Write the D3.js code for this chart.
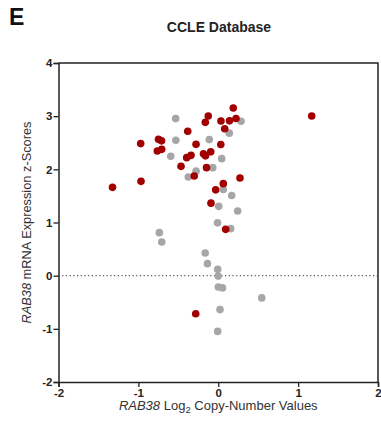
<!DOCTYPE html>
<html>
<head>
<meta charset="utf-8">
<script src="https://cdn.jsdelivr.net/npm/d3@7"></script>
<style>
  body { margin: 0; background: #fff; }
  svg { font-family: "Liberation Sans", Arial, sans-serif; }
</style>
</head>
<body>
<div id="chart"></div>
<script>
// copy-number (x) vs z-score (y)
var redX = [0.188, -0.125, -0.162, 0.034, 0.141, 0.222, 0.081, -0.382, 1.170, -0.748,
            -0.710, -0.971, -0.278, 0.032, -0.708, -0.763, -0.094, -0.185, -0.160, -0.341,
            -0.395, -0.466, -0.147, -0.301, 0.272, -0.967, -1.324, 0.063, -0.032, -0.091,
            0.093, -0.282];
var redY = [3.153, 3.003, 2.884, 2.909, 2.912, 2.956, 2.762, 2.715, 3.003, 2.564,
            2.536, 2.484, 2.470, 2.467, 2.376, 2.344, 2.329, 2.292, 2.254, 2.263,
            2.220, 2.056, 2.032, 1.874, 1.836, 1.774, 1.661, 1.731, 1.614, 1.364,
            0.871, -0.715];
var grayX = [-0.533, 0.285, 0.138, -0.531, -0.112, -0.595, 0.043, -0.069, -0.278, -0.375,
             0.063, 0.168, 0.006, 0.243, -0.009, 0.156, -0.738, -0.707, -0.163, -0.135,
             -0.007, -0.001, 0.001, 0.053, 0.545, 0.022, -0.007];
var grayY = [2.954, 2.903, 2.681, 2.546, 2.559, 2.245, 2.201, 2.032, 1.966, 1.855,
             1.620, 1.507, 1.304, 1.215, 0.993, 0.884, 0.809, 0.632, 0.425, 0.226,
             0.119, -0.008, -0.214, -0.230, -0.418, -0.638, -1.048];
var xTicks = [-2, -1, 0, 1, 2];
var yTicks = [-2, -1, 0, 1, 2, 3, 4];

var W = 381, H = 427;
var plotL = 58.5, plotR = 378, plotT = 63, plotB = 382;

var svg = d3.select("#chart").append("svg")
    .attr("width", W)
    .attr("height", H);

var x = d3.scaleLinear().domain([-2, 2]).range([plotL, plotR]);
var y = d3.scaleLinear().domain([-2, 4]).range([plotB, plotT]);

// box (top + right)
svg.append("path")
    .attr("d", "M" + plotL + "," + plotT + "H" + plotR + "V" + plotB)
    .attr("fill", "none")
    .attr("stroke", "#222")
    .attr("stroke-width", 1.5);

// dotted zero line
svg.append("line")
    .attr("x1", x(-2)).attr("x2", x(2))
    .attr("y1", y(0)).attr("y2", y(0))
    .attr("stroke", "#555")
    .attr("stroke-width", 1.2)
    .attr("stroke-dasharray", "1.2,2.5");

// axes
var xAxis = svg.append("g")
    .attr("transform", "translate(0," + plotB + ")")
    .call(d3.axisBottom(x).tickValues(xTicks).tickSize(5).tickPadding(2).tickFormat(function (d) { return String(d); }));
var yAxis = svg.append("g")
    .attr("transform", "translate(" + plotL + ",0)")
    .call(d3.axisLeft(y).tickValues(yTicks).tickSize(5).tickPadding(1).tickFormat(function (d) { return String(d); }));

[xAxis, yAxis].forEach(function (g) {
    g.select(".domain").attr("stroke", "#222").attr("stroke-width", 1.5);
    g.selectAll(".tick line").attr("stroke", "#222").attr("stroke-width", 1.3);
    g.selectAll("text")
        .attr("fill", "#222")
        .style("font-size", "11.5px")
        .style("font-weight", "bold")
        .style("font-family", "Liberation Sans, Arial, sans-serif");
});

// dots: gray first, red on top
var grayData = grayX.map(function (v, i) { return [v, grayY[i]]; });
var redData = redX.map(function (v, i) { return [v, redY[i]]; });

svg.append("g")
    .selectAll("circle")
    .data(grayData)
    .join("circle")
    .attr("cx", function (d) { return x(d[0]); })
    .attr("cy", function (d) { return y(d[1]); })
    .attr("r", 3.8)
    .style("fill", "#a6a6a8");

svg.append("g")
    .selectAll("circle")
    .data(redData)
    .join("circle")
    .attr("cx", function (d) { return x(d[0]); })
    .attr("cy", function (d) { return y(d[1]); })
    .attr("r", 3.8)
    .style("fill", "#a20000");

// panel letter
svg.append("text")
    .attr("x", 9)
    .attr("y", 25)
    .style("font-size", "23px")
    .style("font-weight", "bold")
    .attr("fill", "#111")
    .text("E");

// title
svg.append("text")
    .attr("x", 219)
    .attr("y", 32)
    .attr("text-anchor", "middle")
    .style("font-size", "14px")
    .style("font-weight", "bold")
    .attr("fill", "#222")
    .text("CCLE Database");

// x label
var xl = svg.append("text")
    .attr("x", (plotL + plotR) / 2)
    .attr("y", 410)
    .attr("text-anchor", "middle")
    .style("font-size", "13px")
    .attr("fill", "#333");
xl.append("tspan").style("font-style", "italic").text("RAB38");
xl.append("tspan").text(" Log");
xl.append("tspan").attr("dy", 3).style("font-size", "9.5px").text("2");
xl.append("tspan").attr("dy", -3).text(" Copy-Number Values");

// y label
var yl = svg.append("text")
    .attr("transform", "translate(31," + ((plotT + plotB) / 2) + ") rotate(-90)")
    .attr("text-anchor", "middle")
    .style("font-size", "12.8px")
    .attr("fill", "#333");
yl.append("tspan").style("font-style", "italic").text("RAB38");
yl.append("tspan").text(" mRNA Expression z-Scores");
</script>
</body>
</html>
